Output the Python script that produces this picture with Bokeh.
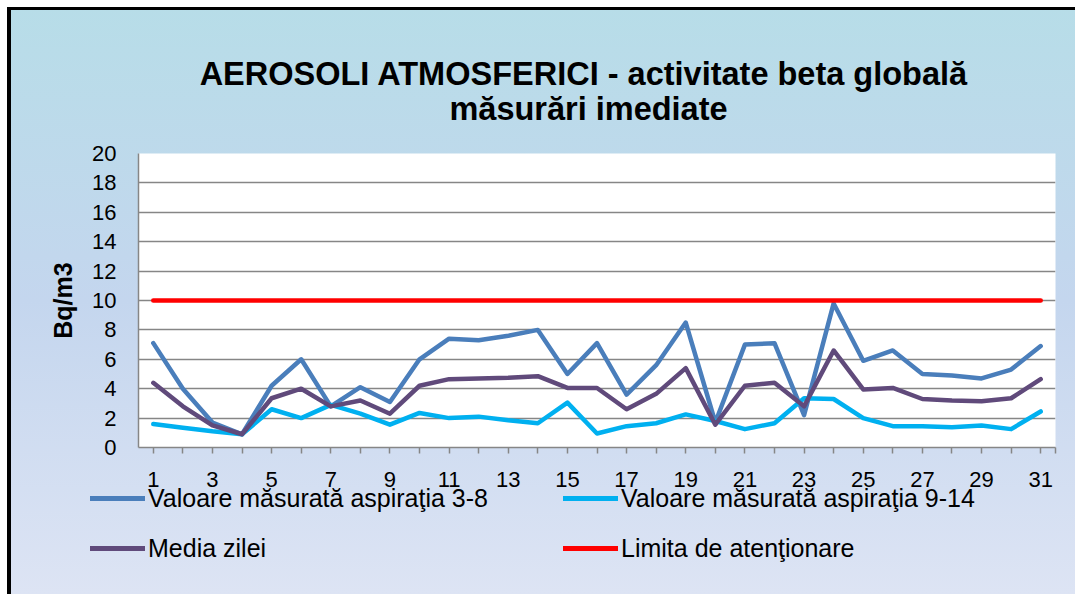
from bokeh.plotting import figure
from bokeh.layouts import column
from bokeh.models import Range1d, FixedTicker, Label, Legend, LegendItem
from bokeh.embed import file_html
from bokeh.resources import INLINE

days = list(range(1, 32))
aspiratia_3_8 = [7.1, 4.0, 1.7, 0.9, 4.2, 6.0, 2.8, 4.1, 3.1, 6.0,
                 7.4, 7.3, 7.6, 8.0, 5.0, 7.1, 3.6, 5.6, 8.5, 1.7,
                 7.0, 7.1, 2.2, 9.8, 5.9, 6.6, 5.0, 4.9, 4.7, 5.3, 6.9]
aspiratia_9_14 = [1.6, 1.35, 1.1, 0.9, 2.6, 2.0, 2.9, 2.3, 1.55, 2.35,
                  2.0, 2.1, 1.85, 1.65, 3.05, 0.95, 1.45, 1.65, 2.25, 1.8,
                  1.25, 1.65, 3.35, 3.3, 2.0, 1.45, 1.45, 1.38, 1.5, 1.25, 2.45]
media_zilei = [4.4, 2.8, 1.5, 0.9, 3.35, 4.0, 2.8, 3.2, 2.3, 4.2,
               4.65, 4.7, 4.75, 4.85, 4.05, 4.05, 2.6, 3.65, 5.4, 1.55,
               4.2, 4.4, 2.8, 6.6, 3.95, 4.05, 3.3, 3.2, 3.15, 3.35, 4.65]
limita = [10] * 31
y_ticks = list(range(0, 21, 2))
x_tick_labels = {d: (str(d) if d % 2 == 1 else "") for d in days}
title_lines = ["AEROSOLI  ATMOSFERICI - activitate beta globală", "măsurări imediate"]
legend_labels = ["Valoare măsurată aspiraţia 3-8", "Valoare măsurată aspiraţia 9-14",
                 "Media zilei", "Limita de atenţionare"]
series = [aspiratia_3_8, aspiratia_9_14, media_zilei, limita]
series_colors = ["#4a7ebb", "#00b0f0", "#604a7b", "#ff0000"]

FONT = "Liberation Sans"
GRAY = "#868686"


def blank_panel(height):
    f = figure(width=1075, height=height, output_backend="svg", toolbar_location=None,
               title=None, x_axis_type=None, y_axis_type=None,
               x_range=Range1d(100, 101), y_range=Range1d(100, 101), min_border=0)
    f.frame_align = False
    f.border_fill_alpha = 0
    f.background_fill_alpha = 0
    f.outline_line_color = None
    f.xgrid.grid_line_color = None
    f.ygrid.grid_line_color = None
    return f


# title panel
pt = blank_panel(138)
for txt, yy in zip(title_lines, [65, 30]):
    pt.add_layout(Label(x=588, y=yy, x_units="screen", y_units="screen", text=txt,
                        text_font=FONT, text_font_size="32.5px", text_font_style="bold",
                        text_color="black", text_align="center",
                        text_baseline="alphabetic"))

# chart
p = figure(width=1075, height=358, output_backend="svg", toolbar_location=None,
           title=None,
           x_range=Range1d(0.5, 31.5), y_range=Range1d(0, 20),
           min_border_left=138, min_border_right=20, min_border_top=15,
           min_border_bottom=49)
p.frame_align = False
p.border_fill_alpha = 0
p.background_fill_color = "white"
p.outline_line_color = None

for ys, c in zip(series, series_colors):
    p.line(days, ys, line_color=c, line_width=4.5, line_join="round", line_cap="round")

p.xaxis.ticker = FixedTicker(ticks=days + [31.5])
ov = dict(x_tick_labels)
ov[31.5] = ""
p.xaxis.major_label_overrides = ov
p.xaxis.major_tick_out = 6
p.xaxis.major_tick_in = 0
p.xaxis.minor_tick_line_color = None
p.xaxis.axis_line_color = GRAY
p.xaxis.axis_line_width = 1.5
p.xaxis.major_tick_line_color = GRAY
p.xaxis.major_tick_line_width = 1.5
p.xaxis.major_label_text_font = FONT
p.xaxis.major_label_text_font_size = "22px"
p.xaxis.major_label_text_color = "black"
p.xaxis.major_label_standoff = 18

p.yaxis.ticker = FixedTicker(ticks=y_ticks)
p.yaxis.major_tick_out = 0
p.yaxis.major_tick_in = 0
p.yaxis.minor_tick_line_color = None
p.yaxis.axis_line_color = GRAY
p.yaxis.axis_line_width = 1.5
p.yaxis.major_label_text_font = FONT
p.yaxis.major_label_text_font_size = "22px"
p.yaxis.major_label_text_color = "black"
p.yaxis.major_label_standoff = 22
p.yaxis.axis_label = "Bq/m3"
p.yaxis.axis_label_text_font = FONT
p.yaxis.axis_label_text_font_size = "25px"
p.yaxis.axis_label_text_font_style = "bold"
p.yaxis.axis_label_text_color = "black"
p.yaxis.axis_label_standoff = 12

p.xgrid.grid_line_color = None
p.ygrid.grid_line_color = GRAY
p.ygrid.grid_line_width = 1.5

# legend panel below the chart (legend proxies are kept out of its view)
pl = blank_panel(130)
pl.styles = {"margin-top": "-32px"}
leg_renderers = [pl.line(days, ys, line_color=c, line_width=5, line_cap="round")
                 for ys, c in zip(series, series_colors)]

legend = Legend(items=[LegendItem(label=lab, renderers=[r]) for lab, r in
                       zip(legend_labels, leg_renderers)],
                location=(90, 31), orientation="horizontal", ncols=2,
                padding=0, spacing=20, margin=0,
                glyph_width=55, glyph_height=30, label_height=30, label_width=395,
                label_standoff=3,
                label_text_font=FONT, label_text_font_size="25px", label_text_color="black",
                background_fill_alpha=0, border_line_alpha=0)
pl.add_layout(legend, "center")

layout = column(pt, p, pl, spacing=0, styles={
    "background": ("linear-gradient(#000,#000) 7px 7px / calc(100% - 7px) 3px no-repeat, "
                   "linear-gradient(#000,#000) 7px 7px / 4px calc(100% - 7px) no-repeat, "
                   "linear-gradient(to bottom, #b7dde8 0%, #c4d6ee 50%, #dde4f4 100%) "
                   "7px 7px / calc(100% - 7px) calc(100% - 7px) no-repeat, #ffffff"),
})

open("out.html", "w").write(file_html(layout, INLINE))
